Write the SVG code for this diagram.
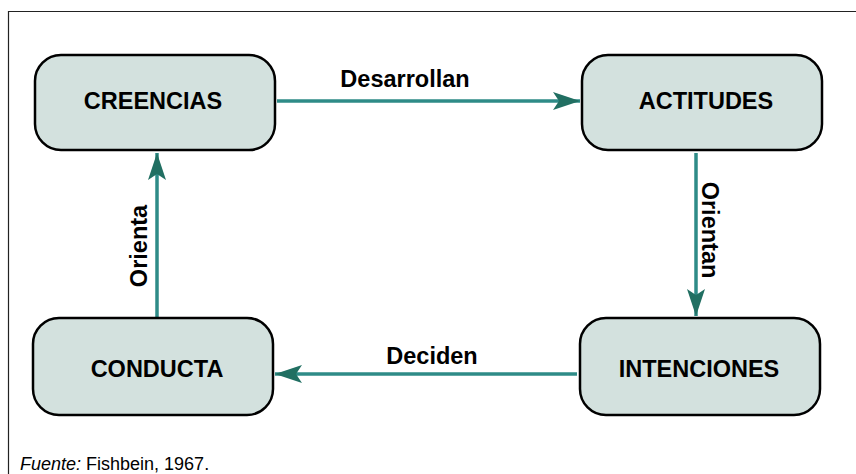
<svg xmlns="http://www.w3.org/2000/svg" width="856" height="474" viewBox="0 0 856 474">
<style>
.box{fill:#d3e1de;stroke:#000;stroke-width:2.5}
.lbl{font-family:"Liberation Sans",Arial,sans-serif;font-weight:bold;font-size:23.5px;fill:#000;text-anchor:middle}
.edge{stroke:#2e8b87;stroke-width:3.5;fill:none;marker-end:url(#ah)}
.note{font-family:"Liberation Sans",Arial,sans-serif;font-size:18px;fill:#000}
</style>
<defs>
<marker id="ah" markerUnits="userSpaceOnUse" markerWidth="28" markerHeight="20" refX="27" refY="10" orient="auto" viewBox="0 0 28 20">
<path d="M0,1 L27,10 L0,19 L6,10 Z" fill="#216f62"/>
</marker>
</defs>
<rect width="856" height="474" fill="#fff"/>
<path d="M8.5,474 V11.5 H856" fill="none" stroke="#222" stroke-width="1.2"/>
<g id="connectors">
<line class="edge" x1="277" y1="101" x2="580" y2="101"/>
<line class="edge" x1="696" y1="153" x2="696" y2="316"/>
<line class="edge" x1="577" y1="374" x2="275" y2="374"/>
<line class="edge" x1="157" y1="317" x2="157" y2="153"/>
<text class="lbl" x="405" y="87">Desarrollan</text>
<text class="lbl" transform="translate(702,230) rotate(90)">Orientan</text>
<text class="lbl" x="432" y="364">Deciden</text>
<text class="lbl" transform="translate(147,246) rotate(-90)">Orienta</text>
</g>
<g id="creencias">
<rect class="box" x="35" y="55" width="240" height="95" rx="26"/>
<text class="lbl" x="153" y="109">CREENCIAS</text>
</g>
<g id="actitudes">
<rect class="box" x="582" y="55" width="240" height="95" rx="26"/>
<text class="lbl" x="706" y="109">ACTITUDES</text>
</g>
<g id="intenciones">
<rect class="box" x="580" y="318" width="240" height="97" rx="26"/>
<text class="lbl" x="699" y="377">INTENCIONES</text>
</g>
<g id="conducta">
<rect class="box" x="33" y="318" width="240" height="97" rx="26"/>
<text class="lbl" x="157" y="377">CONDUCTA</text>
</g>
<text class="note" x="20" y="470"><tspan font-style="italic">Fuente:</tspan> Fishbein, 1967.</text>
</svg>
